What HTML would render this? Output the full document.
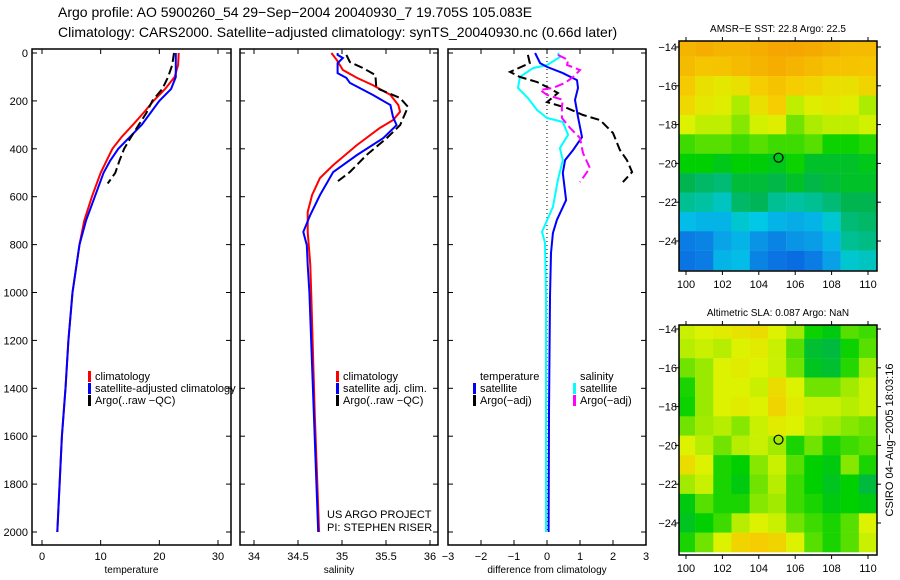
<!DOCTYPE html>
<html><head><meta charset="utf-8"><style>
body{margin:0;background:#fff;}
svg{display:block;font-family:"Liberation Sans",sans-serif;}
</style></head><body>
<svg id="c" width="900" height="580" viewBox="0 0 900 580">
<text x="58" y="17" font-size="14">Argo profile: AO 5900260_54 29−Sep−2004 20040930_7 19.705S 105.083E</text>
<text x="58" y="37" font-size="14">Climatology: CARS2000. Satellite−adjusted climatology: synTS_20040930.nc (0.66d later)</text>
<text transform="translate(893,440) rotate(-90)" text-anchor="middle" font-size="11">CSIRO 04−Aug−2005 18:03:16</text>
<g id="g"></g>
</svg>
<script>
// ---------- data ----------
const tDepth = [0,50,100,150,200,250,300,350,400,450,500,600,700,800,1000,1200,1400,1600,1800,2000];
const tClim  = [23.3,23.2,22.6,21.0,19.0,17.3,15.5,13.6,12.0,11.0,10.0,8.5,7.2,6.4,5.2,4.5,4.0,3.4,3.0,2.6];
const tSat   = [22.8,22.8,22.8,22.0,20.0,18.5,17.0,15.0,13.0,11.6,10.5,9.0,7.5,6.4,5.2,4.5,4.0,3.4,3.0,2.6];
const aDepth = [0,50,100,150,200,250,300,350,400,450,500,545];
const tArgo  = [22.5,22.2,21.5,20.5,18.8,17.8,16.5,15.2,14.0,13.2,12.5,11.2];
const sClimDepth = [0,29,71,104,134,175,217,245,280,313,384,468,522,593,664,747,885,1000,1500,2000];
const sClim      = [34.88,34.94,35.01,35.17,35.35,35.55,35.64,35.66,35.58,35.43,35.17,34.9,34.75,34.66,34.61,34.61,34.64,34.65,34.69,34.74];
const sSatDepth  = [0,8,21,42,84,104,125,175,217,267,301,355,426,497,593,676,747,802,885,1000,1500,2000];
const sSat       = [34.95,34.95,35.01,34.95,34.95,35.05,35.09,35.35,35.55,35.58,35.62,35.47,35.17,34.9,34.75,34.64,34.56,34.6,34.61,34.63,34.68,34.73];
const sArgoDepth = [8,38,63,92,146,188,225,301,355,426,497,539];
const sArgo      = [35.05,35.09,35.24,35.38,35.39,35.66,35.75,35.66,35.51,35.28,35.09,34.94];
const dtSatDepth = [0,42,58,84,113,146,196,267,351,405,447,501,614,697,752,835,1019,1500,2000];
const dtSat      = [-0.36,-0.21,0,0.48,0.91,0.94,0.85,0.94,1.06,0.79,0.55,0.48,0.58,0.3,0.18,0.12,0.09,0.06,0.05];
const dsSatDepth = [0,17,50,63,100,146,188,238,271,288,342,397,447,530,643,747,793,1019,1500,2000];
const dsSat      = [0.33,0.39,0,-0.42,-0.82,-0.88,-0.58,-0.3,0,0.48,0.64,0.39,0.48,0.33,0.18,-0.15,-0.06,-0.03,-0.03,-0.03];
const dtArgoDepth = [8,42,79,100,121,142,167,205,230,259,280,334,405,447,497,539];
const dtArgo      = [-0.58,-0.52,-1.12,-0.82,-0.3,0,0.33,0,0.61,1.09,1.61,2.0,2.21,2.42,2.58,2.3];
const dsArgoDepth = [8,29,50,71,100,125,146,154,175,196,225,271,313,355,418,480,539];
const dsArgo      = [0.33,0.64,0.61,1.0,0.79,0.55,0.18,-0.21,0,0.48,0.45,0.45,0.7,1.0,1.09,1.3,1.0];
const depthTicks = [0,200,400,600,800,1000,1200,1400,1600,1800,2000];
const tTicks = [0,10,20,30];
const sTicks = [34,34.5,35,35.5,36];
const dTicks = [-3,-2,-1,0,1,2,3];
const mapLons = [100,101,102,103,104,105,106,107,108,109,110];
const mapLats = [-14,-15,-16,-17,-18,-19,-20,-21,-22,-23,-24,-25];
const lonTicks = [100,102,104,106,108,110];
const latTicks = [-14,-16,-18,-20,-22,-24];
const sst = [
[0.92,0.94,0.92,0.92,0.94,0.97,0.97,0.95,0.93,0.9,0.9],
[0.9,0.87,0.88,0.9,0.92,0.94,0.92,0.9,0.88,0.88,0.87],
[0.86,0.8,0.78,0.8,0.85,0.88,0.85,0.83,0.8,0.8,0.83],
[0.82,0.78,0.76,0.7,0.8,0.85,0.72,0.76,0.78,0.76,0.7],
[0.75,0.72,0.72,0.66,0.74,0.76,0.64,0.7,0.72,0.72,0.74],
[0.6,0.62,0.62,0.6,0.62,0.6,0.6,0.62,0.56,0.56,0.58],
[0.55,0.55,0.52,0.55,0.54,0.52,0.56,0.5,0.5,0.5,0.52],
[0.45,0.42,0.4,0.48,0.48,0.46,0.5,0.46,0.48,0.5,0.5],
[0.36,0.34,0.3,0.42,0.44,0.36,0.34,0.36,0.4,0.45,0.45],
[0.22,0.2,0.2,0.28,0.25,0.2,0.18,0.2,0.28,0.4,0.42],
[0.06,0.08,0.16,0.2,0.12,0.08,0.12,0.14,0.2,0.36,0.38],
[0.04,0.06,0.2,0.22,0.08,0.04,0.02,0.06,0.15,0.28,0.3]];
const sla = [
[0.73,0.75,0.77,0.79,0.81,0.75,0.69,0.56,0.53,0.62,0.6],
[0.71,0.73,0.71,0.75,0.77,0.73,0.62,0.49,0.47,0.56,0.62],
[0.64,0.68,0.75,0.77,0.75,0.73,0.64,0.51,0.49,0.58,0.69],
[0.57,0.68,0.75,0.75,0.73,0.81,0.75,0.64,0.64,0.69,0.73],
[0.56,0.68,0.75,0.77,0.75,0.83,0.77,0.73,0.73,0.71,0.73],
[0.64,0.69,0.71,0.66,0.73,0.77,0.75,0.71,0.69,0.66,0.64],
[0.75,0.71,0.64,0.71,0.73,0.69,0.57,0.64,0.57,0.6,0.62],
[0.81,0.75,0.57,0.55,0.66,0.73,0.62,0.55,0.53,0.66,0.57],
[0.69,0.73,0.57,0.53,0.64,0.71,0.6,0.55,0.51,0.55,0.47],
[0.53,0.62,0.57,0.57,0.66,0.69,0.6,0.57,0.53,0.55,0.53],
[0.51,0.55,0.6,0.71,0.75,0.73,0.64,0.6,0.57,0.62,0.75],
[0.57,0.64,0.75,0.83,0.85,0.83,0.75,0.62,0.57,0.62,0.73]];
const floatLon = 105.083, floatLat = -19.705;

// ---------- drawing ----------
const NS="http://www.w3.org/2000/svg";
const G=document.getElementById('g');
function mk(tag,attrs,parent){const e=document.createElementNS(NS,tag);for(const k in attrs)e.setAttribute(k,attrs[k]);(parent||G).appendChild(e);return e;}
function txt(x,y,s,anchor,size,parent){const t=mk('text',{x:x,y:y,'text-anchor':anchor||'start','font-size':size||11},parent);t.textContent=s;return t;}
const yD = d => 53 + d*0.2395;
const BT=49, BB=545;
const panels=[
 {x0:32,x1:231,sx:v=>42+v*176/30,ticks:tTicks,label:'temperature',name:'temperature'},
 {x0:240,x1:438,sx:v=>254+(v-34)*88,ticks:sTicks,label:'salinity',name:'salinity'},
 {x0:448,x1:646,sx:v=>547+v*33,ticks:dTicks,label:'difference from climatology',name:'difference'}];
panels.forEach((p,i)=>{
  const r=mk('rect',{x:p.x0,y:BT,width:p.x1-p.x0,height:BB-BT,fill:'none',stroke:'#000','stroke-width':1.5});
  
  
  depthTicks.forEach(d=>{
    mk('line',{x1:p.x0,x2:p.x0+5,y1:yD(d),y2:yD(d),stroke:'#000'});
    mk('line',{x1:p.x1,x2:p.x1-5,y1:yD(d),y2:yD(d),stroke:'#000'});
    if(i===0){const t=txt(p.x0-4,yD(d)+4,String(d),'end',11);
      
      }
  });
  p.ticks.forEach(v=>{
    const x=p.sx(v);
    mk('line',{x1:x,x2:x,y1:BB,y2:BB-5,stroke:'#000'});
    mk('line',{x1:x,x2:x,y1:BT,y2:BT+5,stroke:'#000'});
    const t=txt(x,560,String(v).replace('-','−'),'middle',11);
    
    
  });
  const l=txt((p.x0+p.x1)/2,573,p.label,'middle',10);
  
  
});
function series(p,depths,vals,color,dash,name){
  const pts=depths.map((d,k)=>p.sx(vals[k]).toFixed(1)+','+yD(d).toFixed(1)).join(' ');
  const e=mk('polyline',{points:pts,fill:'none',stroke:color,'stroke-width':2});
  if(dash)e.setAttribute('stroke-dasharray','9 4');
  
  
}
const z=mk('line',{x1:panels[2].sx(0),x2:panels[2].sx(0),y1:yD(0),y2:yD(2000),stroke:'#000','stroke-dasharray':'1 3'});


series(panels[0],tDepth,tClim,'#f00',false,'temperature-climatology-line');
series(panels[0],tDepth,tSat,'#00f',false,'temperature-satellite-line');
series(panels[0],aDepth,tArgo,'#000',true,'temperature-argo-line');
series(panels[1],sClimDepth,sClim,'#f00',false,'salinity-climatology-line');
series(panels[1],sSatDepth,sSat,'#00f',false,'salinity-satellite-line');
series(panels[1],sArgoDepth,sArgo,'#000',true,'salinity-argo-line');
series(panels[2],dsSatDepth,dsSat,'#0ff',false,'salinity-satellite-diff-line');
series(panels[2],dtSatDepth,dtSat,'#00f',false,'temperature-satellite-diff-line');
series(panels[2],dtArgoDepth,dtArgo,'#000',true,'temperature-argo-diff-line');
series(panels[2],dsArgoDepth,dsArgo,'#f0f',true,'salinity-argo-diff-line');
function leg(x,y,color,label,name){
  if(color){const m=mk('rect',{x:x,y:y-9,width:3,height:11,fill:color});
    
    }
  const t=txt(x+7,y,label,'start',11);
  
  
}
leg(88,380,'#f00','climatology','legend-climatology');
leg(88,392,'#00f','satellite-adjusted climatology','legend-satellite');
leg(88,404,'#000','Argo(..raw −QC)','legend-argo');
leg(336,380,'#f00','climatology','legend-sal-climatology');
leg(336,392,'#00f','satellite adj. clim.','legend-sal-satellite');
leg(336,404,'#000','Argo(..raw −QC)','legend-sal-argo');
leg(473,380,null,'temperature','legend-diff-temperature');
leg(473,392,'#00f','satellite','legend-diff-temp-satellite');
leg(473,404,'#000','Argo(−adj)','legend-diff-temp-argo');
leg(573,380,null,'salinity','legend-diff-salinity');
leg(573,392,'#0ff','satellite','legend-diff-sal-satellite');
leg(573,404,'#f0f','Argo(−adj)','legend-diff-sal-argo');
const c1=txt(327,518,'US ARGO PROJECT','start',11);


const c2=txt(327,531,'PI: STEPHEN RISER','start',11);


// ---------- maps ----------
const stops=[[0,[10,100,224]],[0.15,[10,160,232]],[0.25,[0,200,230]],[0.35,[0,192,154]],[0.45,[0,180,80]],[0.55,[0,208,0]],[0.65,[124,230,0]],[0.75,[220,242,0]],[0.85,[245,205,0]],[0.95,[245,170,0]],[1,[245,160,0]]];
function cmap(v){v=Math.max(0,Math.min(1,v));for(let i=1;i<stops.length;i++){if(v<=stops[i][0]){const a=stops[i-1],b=stops[i],f=(v-a[0])/(b[0]-a[0]);return 'rgb('+a[1].map((c,k)=>Math.round(c+(b[1][k]-c)*f)).join(',')+')';}}return 'rgb(245,160,0)';}
function drawMap(top,bottom,latRef,grid,title,name){
  const x0=679,x1=877;
  const sx=lon=>686+(lon-100)*18.2;
  const sy=lat=>latRef+(-14-lat)*19.4;
  const cid='clip-'+name;
  const cp=mk('clipPath',{id:cid});
  mk('rect',{x:x0,y:top,width:x1-x0,height:bottom-top},cp);
  const g=mk('g',{'clip-path':'url(#'+cid+')'});
  
  
  grid.forEach((row,r)=>row.forEach((v,c)=>{
    const cell=mk('rect',{x:sx(mapLons[c]-0.5),y:sy(mapLats[r]+0.5),width:18.4,height:19.6,fill:cmap(v)},g);
    
    
  }));
  const fr=mk('rect',{x:x0,y:top,width:x1-x0,height:bottom-top,fill:'none',stroke:'#000','stroke-width':1.5});
  
  
  lonTicks.forEach(l=>{const x=sx(l);
    mk('line',{x1:x,x2:x,y1:bottom,y2:bottom+4,stroke:'#000'});
    mk('line',{x1:x,x2:x,y1:top,y2:top-4,stroke:'#000'});
    const t=txt(x,bottom+17,String(l),'middle',11);
    
    });
  latTicks.forEach(l=>{const y=sy(l);
    mk('line',{x1:x0,x2:x0-4,y1:y,y2:y,stroke:'#000'});
    mk('line',{x1:x1,x2:x1+4,y1:y,y2:y,stroke:'#000'});
    const t=txt(x0-2,y+4,String(l).replace('-','−'),'end',11);
    
    });
  const tt=txt((x0+x1)/2,top-9,title,'middle',10);
  
  
  const m=mk('circle',{cx:sx(floatLon),cy:sy(floatLat),r:4.5,fill:'none',stroke:'#000','stroke-width':1.2});
  
  
}
drawMap(41,271,47,sst,'AMSR−E SST: 22.8 Argo: 22.5','sst-map');
drawMap(325,555,329,sla,'Altimetric SLA: 0.087 Argo: NaN','sla-map');
</script>
</body></html>
